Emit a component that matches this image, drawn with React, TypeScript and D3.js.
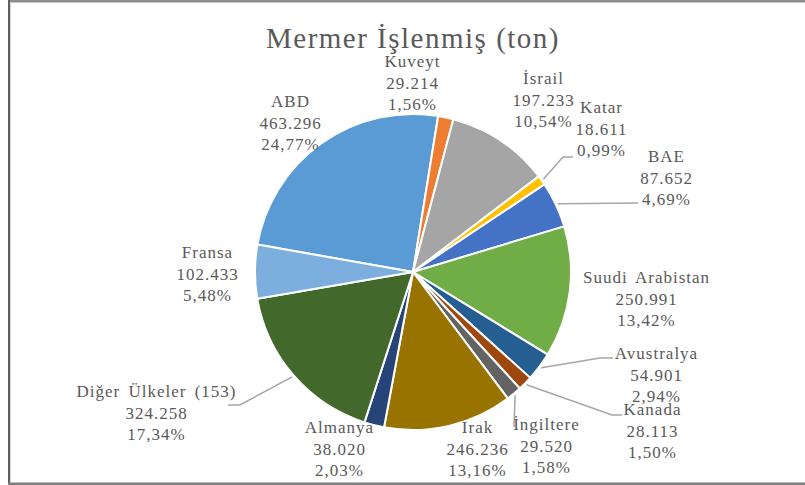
import React from "react";
import * as d3 from "d3";

const countries = [
  "ABD", "Kuveyt", "İsrail", "Katar", "BAE", "Suudi Arabistan", "Avustralya",
  "Kanada", "İngiltere", "Irak", "Almanya", "Diğer Ülkeler (153)", "Fransa",
];
const tons = [
  463296, 29214, 197233, 18611, 87652, 250991, 54901, 28113, 29520, 246236,
  38020, 324258, 102433,
];
const colors = [
  "#5B9BD5", "#ED7D31", "#A5A5A5", "#FFC000", "#4472C4", "#70AD47", "#255E91",
  "#9E480E", "#636363", "#997300", "#264478", "#43682B", "#7CAFDD",
];
const title = "Mermer İşlenmiş (ton)";

// label layout: center x and first baseline y
const labelPos: [number, number][] = [
  [290, 107], [412, 67], [543, 84], [601, 113], [666, 162], [646, 283],
  [656, 359], [652, 415], [546, 430], [477, 433], [339, 433], [156, 397],
  [207, 258],
];
// leader lines: list of points after the start (start computed from slice)
const leaders: Record<number, [number, number][]> = {
  3: [[563, 157], [573, 157]],
  4: [[638, 203]],
  6: [[600, 358], [613, 358]],
  7: [[612, 415], [622, 415]],
  8: [[514, 427]],
  11: [[240, 405], [228, 405]],
};

const W = 805, H = 485;
const cx = 413, cy = 272, R = 158;
const startDeg = -80;
const textColor = "#595959";
const lineH = 21.7;
const FONT = '"Liberation Serif"';

const tr = d3.formatLocale({ decimal: ",", thousands: ".", grouping: [3], currency: ["", "₺"] });
const fmtInt = tr.format(",d");
const fmtPct = tr.format(".2f");

export default function App() {
  const total = d3.sum(tons);
  const a0 = (startDeg * Math.PI) / 180;
  const pie = d3.pie<number>().sort(null).value((d) => d).startAngle(a0).endAngle(a0 + 2 * Math.PI);
  const arcs = pie(tons);
  const arc = d3.arc<d3.PieArcDatum<number>>().innerRadius(0).outerRadius(R);

  return (
    <div style={{ fontFamily: FONT }}>
      <svg width={W} height={H} fontFamily="Liberation Serif"
        style={{ position: "absolute", left: 0, top: 0, background: "#fff", fontFamily: FONT }}>
        <style>{`svg text { font-family: "Liberation Serif" !important; }`}</style>
        <rect x={0} y={0} width={W} height={H} fill="#fff" />
        <rect x={8} y={0} width={W - 8} height={2.5} fill="#8c8c8c" />
        <rect x={8} y={0} width={2} height={H} fill="#5f5f5f" />
        <rect x={10} y={2} width={1} height={H - 4} fill="#d9d9d9" />
        <rect x={8} y={482.5} width={W - 8} height={2.5} fill="#7f7f7f" />

        <text x={413} y={48} textAnchor="middle" fill={textColor} fontSize={29} fontFamily="Liberation Serif"
          style={{ fontFamily: FONT, letterSpacing: "1.5px" }}>
          {title}
        </text>

        <g transform={`translate(${cx},${cy})`}>
          {arcs.map((a, i) => (
            <path key={i} d={arc(a) || ""} fill={colors[i]} stroke="#fff" strokeWidth={2} strokeLinejoin="round" />
          ))}
        </g>

        {arcs.map((a, i) => {
          const pts = leaders[i];
          if (!pts) return null;
          const mid = (a.startAngle + a.endAngle) / 2;
          const r = R + 2;
          const start: [number, number] = [cx + r * Math.sin(mid), cy - r * Math.cos(mid)];
          const line = d3.line()([start, ...pts]);
          return <path key={"l" + i} d={line || ""} fill="none" stroke="#A6A6A6" strokeWidth={1.5} />;
        })}

        {countries.map((c, i) => {
          const [x, y] = labelPos[i];
          const lines = [c, fmtInt(tons[i]), fmtPct((tons[i] / total) * 100) + "%"];
          return (
            <g key={"t" + i}>
              {lines.map((s, k) => (
                <text key={k} x={x + 0.5} y={y + k * lineH} textAnchor="middle" fill={textColor} fontSize={17}
                  fontFamily="Liberation Serif"
                  style={{ fontFamily: FONT, letterSpacing: "1px", wordSpacing: "3px" }}>
                  {s}
                </text>
              ))}
            </g>
          );
        })}
      </svg>
    </div>
  );
}
